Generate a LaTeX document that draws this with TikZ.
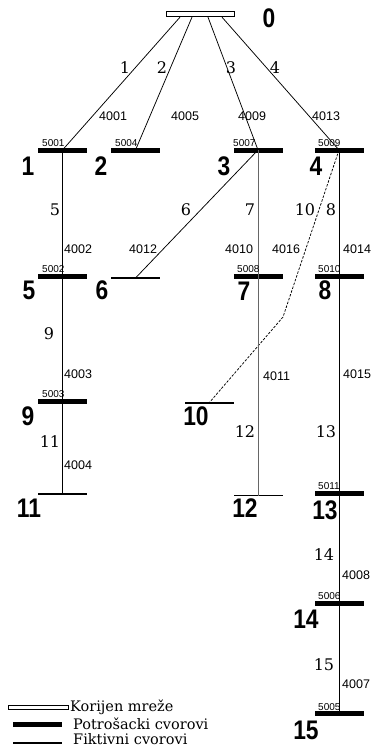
\documentclass[tikz,border=0pt]{standalone}
\usepackage{graphicx}
\usepackage{fontspec}
\newfontfamily\numfont{Liberation Sans}
\newfontfamily\codefont{Liberation Sans}
\newfontfamily\serfont{DejaVu Serif}
\newcommand\tallnum[1]{\scalebox{0.95}[1.12]{#1}}
\begin{document}
\begin{tikzpicture}[x=1pt,y=-1pt,
  bus/.style={fill=black,draw=none,minimum width=49pt,minimum height=5pt,inner sep=0pt},
  fict/.style={fill=black,draw=none,minimum width=49pt,minimum height=1.4pt,inner sep=0pt},
  rootbus/.style={draw=black,fill=white,line width=0.8pt,minimum width=68pt,minimum height=5.5pt,inner sep=0pt},
  nlab/.style={font=\numfont\bfseries\fontsize{24}{24}\selectfont,inner sep=0pt},
  llab/.style={font=\serfont\fontsize{16}{16}\selectfont,inner sep=0pt},
  clab/.style={font=\codefont\fontsize{12.5}{12.5}\selectfont,inner sep=0pt,anchor=west},
  blab/.style={font=\codefont\fontsize{10}{10}\selectfont,inner sep=0pt,anchor=base west},
  wire/.style={line width=0.75pt},
  gwire/.style={line width=0.9pt,black!60},
  leg/.style={font=\serfont\fontsize{14.5}{14.5}\selectfont,inner sep=0pt,anchor=west}]
\useasboundingbox (0,0) rectangle (376,748);
% buses
\node[rootbus] (r) at (200.5,14) {};
\node[bus] (b1) at (62.5,150) {};
\node[bus] (b2) at (135.5,150) {};
\node[bus] (b3) at (258,150) {};
\node[bus] (b4) at (339,150) {};
\node[bus] (b5) at (62.5,276) {};
\node[fict] (b6) at (135.5,278) {};
\node[bus] (b7) at (258,276) {};
\node[bus] (b8) at (339,276) {};
\node[bus] (b9) at (62.5,401.5) {};
\node[fict] (b10) at (209,403) {};
\node[fict] (b11) at (62.5,494) {};
\node[fict] (b12) at (258,495.5) {};
\node[bus] (b13) at (339,493.5) {};
\node[bus] (b14) at (339,603) {};
\node[bus] (b15) at (339,713) {};
\coordinate (k) at (283,317);
% connectors
\draw[wire] ([xshift=-20.5pt]r.south) -- (b1.center);
\draw[wire] ([xshift=-8.5pt]r.south) -- (b2.center);
\draw[wire] ([xshift=7.5pt]r.south) -- (b3.center);
\draw[wire] ([xshift=21.5pt]r.south) -- (b4.center);
\draw[wire] (b1.center) -- (b5.center);
\draw[wire] (b3.center) -- (b6.center);
\draw[gwire] (b3.center) -- (b7.center);
\draw[wire] (b4.center) -- (b8.center);
\draw[wire,dashed,dash pattern=on 2.5pt off 1.5pt] (b4.center) -- (k) -- (b10.center);
\draw[wire] (b5.center) -- (b9.center);
\draw[gwire] (b7.center) -- (b12.center);
\draw[wire] (b8.center) -- (b13.center);
\draw[wire] (b9.center) -- (b11.center);
\draw[wire] (b13.center) -- (b14.center);
\draw[wire] (b14.center) -- (b15.center);
% node numbers
\node[nlab] (n0) at (269,18) {\tallnum{0}};
\node[nlab] (n1) at (28,166) {\tallnum{1}};
\node[nlab] (n2) at (101,166) {\tallnum{2}};
\node[nlab] (n3) at (224,166) {\tallnum{3}};
\node[nlab] (n4) at (316,166) {\tallnum{4}};
\node[nlab] (n5) at (29,290) {\tallnum{5}};
\node[nlab] (n6) at (102,290) {\tallnum{6}};
\node[nlab] (n7) at (244,291) {\tallnum{7}};
\node[nlab] (n8) at (325,290) {\tallnum{8}};
\node[nlab] (n9) at (28,416) {\tallnum{9}};
\node[nlab] (n10) at (196,416) {\tallnum{10}};
\node[nlab] (n11) at (29,508) {\tallnum{11}};
\node[nlab] (n12) at (245,508) {\tallnum{12}};
\node[nlab] (n13) at (325,510) {\tallnum{13}};
\node[nlab] (n14) at (306,619) {\tallnum{14}};
\node[nlab] (n15) at (306,730) {\tallnum{15}};
% line numbers
\node[llab] (l1) at (125,68) {1};
\node[llab] (l2) at (162,68) {2};
\node[llab] (l3) at (231,68) {3};
\node[llab] (l4) at (275,68) {4};
\node[llab] (l5) at (55,210) {5};
\node[llab] (l6) at (186,210) {6};
\node[llab] (l7) at (250,210) {7};
\node[llab] (l10) at (305,210) {10};
\node[llab] (l8) at (331,210) {8};
\node[llab] (l9) at (49,334) {9};
\node[llab] (l11) at (50,442) {11};
\node[llab] (l12) at (245,432) {12};
\node[llab] (l13) at (326,432) {13};
\node[llab] (l14) at (324,555) {14};
\node[llab] (l15) at (324,665) {15};
% line codes
\node[clab] (c4001) at (99,116) {4001};
\node[clab] (c4005) at (171,116) {4005};
\node[clab] (c4009) at (238,116) {4009};
\node[clab] (c4013) at (312,116) {4013};
\node[clab] (c4002) at (64,249) {4002};
\node[clab] (c4012) at (129,249) {4012};
\node[clab] (c4010) at (225,249) {4010};
\node[clab] (c4016) at (272,249) {4016};
\node[clab] (c4014) at (343,249) {4014};
\node[clab] (c4003) at (64,374) {4003};
\node[clab] (c4011) at (263,376) {4011};
\node[clab] (c4015) at (343,374) {4015};
\node[clab] (c4004) at (64,465) {4004};
\node[clab] (c4008) at (342,575) {4008};
\node[clab] (c4007) at (342,684) {4007};
% bus codes
\node[blab] (d5001) at (42,146) {5001};
\node[blab] (d5004) at (115,146) {5004};
\node[blab] (d5007) at (233,146) {5007};
\node[blab] (d5009) at (318,146) {5009};
\node[blab] (d5002) at (42,272) {5002};
\node[blab] (d5008) at (237,272) {5008};
\node[blab] (d5010) at (318,272) {5010};
\node[blab] (d5003) at (42,397) {5003};
\node[blab] (d5011) at (318,489) {5011};
\node[blab] (d5006) at (318,599) {5006};
\node[blab] (d5005) at (318,710) {5005};
% legend
\node[draw=black,fill=white,line width=0.7pt,minimum width=60pt,minimum height=4pt,inner sep=0pt] (g1) at (38,707) {};
\node[leg] (t1) at (70,707) {Korijen mreže};
\node[bus] (g2) at (37.5,724.5) {};
\node[leg] (t2) at (73,724) {Potrošacki cvorovi};
\node[fict] (g3) at (37.5,743) {};
\node[leg] (t3) at (73,739.5) {Fiktivni cvorovi};
\end{tikzpicture}
\end{document}
